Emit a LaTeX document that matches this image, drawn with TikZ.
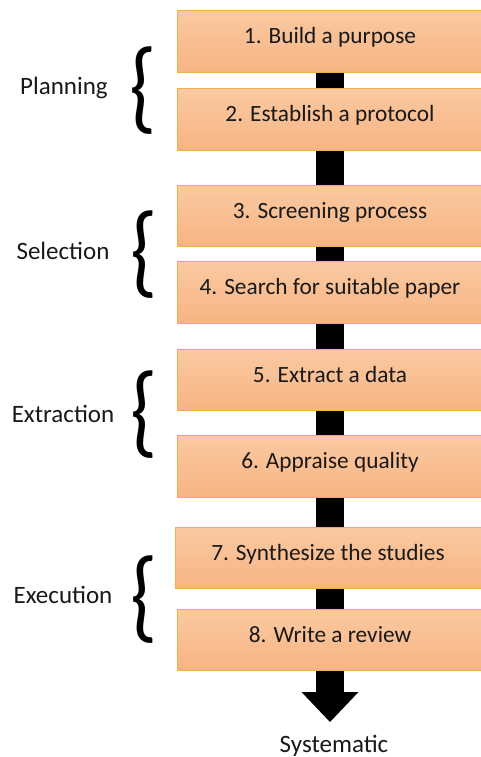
\documentclass[tikz,border=0pt]{standalone}
\usepackage{fontspec}
\setmainfont{Carlito}
\usetikzlibrary{arrows.meta,backgrounds}

\definecolor{stagetop}{RGB}{250,201,162}
\definecolor{stagebot}{RGB}{247,180,130}
\definecolor{stageline}{RGB}{246,172,78}
\definecolor{ink}{RGB}{25,25,25}

\newcommand{\tallbrace}{\scalebox{0.85}[1]{\fontsize{102}{102}\selectfont\{}}

\begin{document}
\begin{tikzpicture}[x = 1pt, y = -1pt,
  stage/.style = {rectangle, draw = stageline, line width = .8pt,
    top color = stagetop, bottom color = stagebot,
    minimum width = 306pt, inner sep = 0pt,
    text height = 33pt, text depth = 28.5pt,
    text = ink, font = \fontsize{23.3}{26}\selectfont},
  phase/.style = {anchor = base, text = ink, font = \fontsize{25}{28}\selectfont},
  curly/.style = {inner sep = 0pt, text = black},
  flow/.style = {line width = 28pt, -{Triangle[width = 57pt, length = 30pt, line width = 0pt]}}]
\useasboundingbox (0,0) rectangle (480,757);

% the eight steps
\node [stage] (b1) at (330, 41.5) {1. Build a purpose};
\node [stage] (b2) at (330, 119.5) {2. Establish a protocol};
\node [stage] (b3) at (330, 216) {3. Screening process};
\node [stage] (b4) at (330, 292.5) {4. Search for suitable paper};
\node [stage] (b5) at (330, 380) {5. Extract a data};
\node [stage] (b6) at (330, 466.5) {6. Appraise quality};
\node [stage] (b7) at (328, 558) {7. Synthesize the studies};
\node [stage] (b8) at (330, 640) {8. Write a review};

% phases on the left
\node [phase] (planning) at (64, 95) {Planning};
\node [phase] (selection) at (63, 259) {Selection};
\node [phase] (extraction) at (63, 422) {Extraction};
\node [phase] (execution) at (63, 603) {Execution};
\node [curly] (br1) at (143, 91) {\tallbrace};
\node [curly] (br2) at (144, 254.5) {\tallbrace};
\node [curly] (br3) at (144, 414.5) {\tallbrace};
\node [curly] (br4) at (144, 599.5) {\tallbrace};

\node [phase] (result) at (334, 752) {Systematic};
\coordinate (tip) at (330, 722);

\begin{scope}[on background layer]
\draw [flow] (b1) -- (tip);
\end{scope}
\end{tikzpicture}
\end{document}
